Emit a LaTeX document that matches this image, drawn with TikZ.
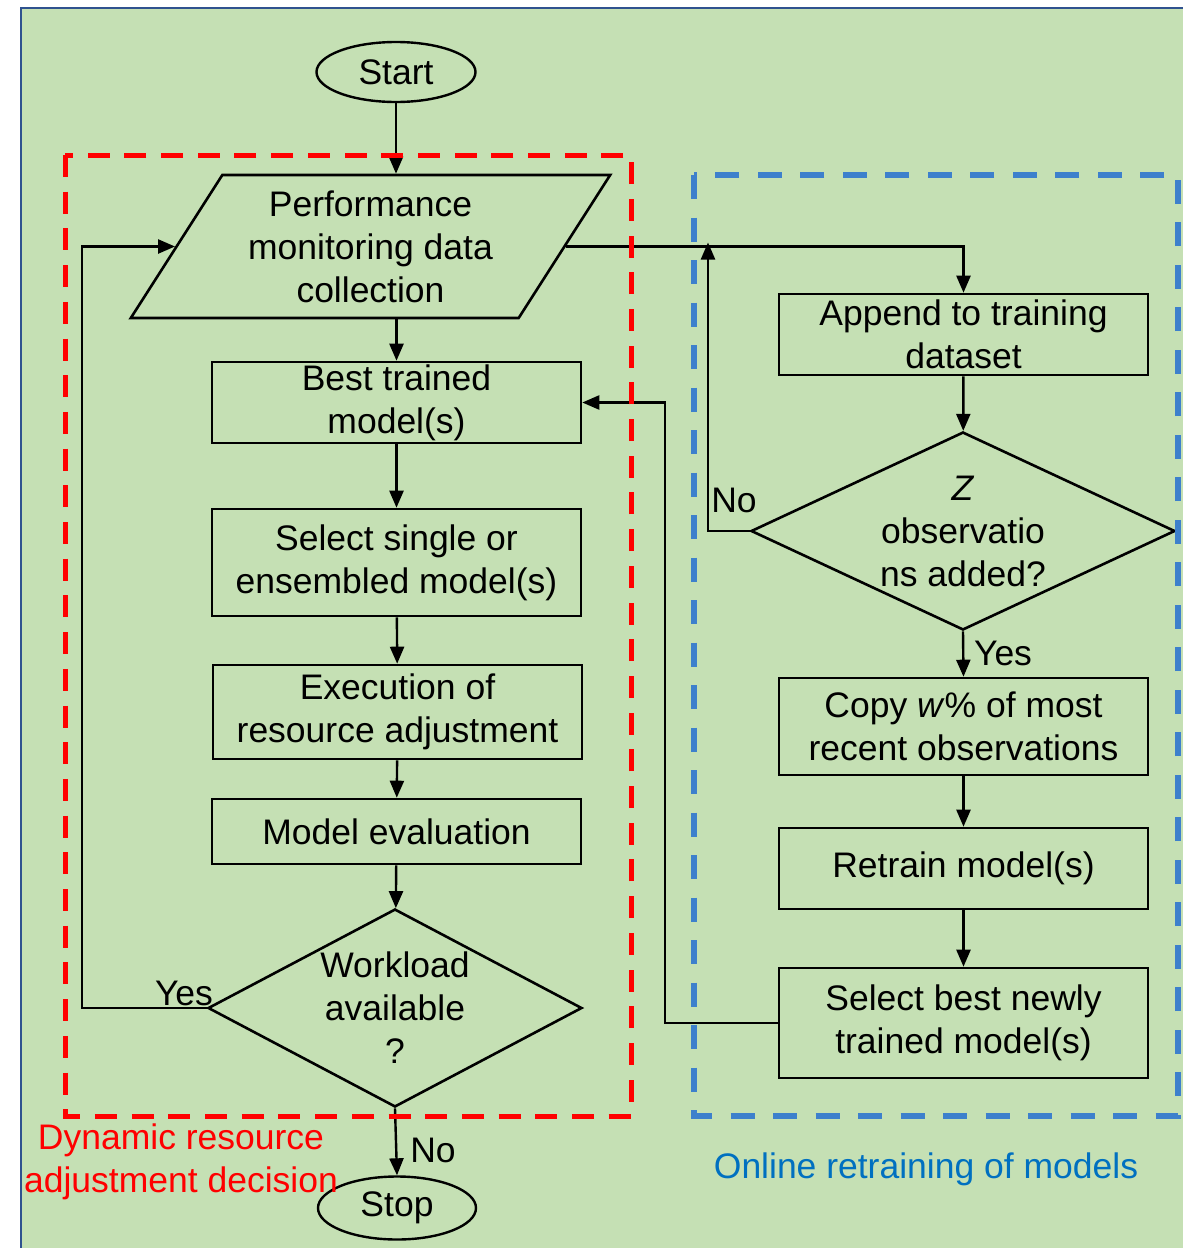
\documentclass[tikz,border=0pt]{standalone}
\usepackage{fontspec}
\setmainfont{Liberation Sans}
\usetikzlibrary{shapes.geometric, arrows.meta}
\usepackage{xcolor}
\definecolor{bgc}{HTML}{C5E0B4}
\definecolor{framec}{HTML}{2F528F}
\definecolor{decc}{HTML}{FF0000}
\definecolor{retrc}{HTML}{3D80CC}
\definecolor{retrtextc}{HTML}{0070C0}

\begin{document}
\begin{tikzpicture}[x=1pt, y=-1pt, font=\fontsize{35.5}{43}\selectfont,
  box/.style={draw, line width=2.6pt, minimum width=369pt, inner sep=0pt, align=center},
  term/.style={draw, ellipse, line width=2.4pt, inner sep=0pt},
  decide/.style={draw, diamond, line width=2.6pt, inner sep=0pt, align=center},
  arr/.style={line width=2.4pt, -{Triangle[length=17pt, width=14pt]}},
  link/.style={line width=2.4pt}]
  \clip (0,0) rectangle (1183,1248);
  \useasboundingbox (0,0) rectangle (1183,1248);
  % background
  \fill[white] (0,0) rectangle (1183,1248);
  \draw[fill=bgc, draw=framec, line width=2pt] (21,8) rectangle (1220,1290);
  % left column
  \node[term, minimum width=159pt, minimum height=60pt] (start) at (396,72) {Start};
  \node[draw, trapezium, trapezium left angle=56, trapezium right angle=124, trapezium stretches=true,
        minimum width=481pt, minimum height=143pt, line width=2.6pt, inner sep=0pt, align=center]
        (perf) at (370.5,246.5) {Performance\\monitoring data\\collection};
  \node[box, minimum height=81pt] (best) at (396.5,402.5) {Best trained\\model(s)};
  \node[box, minimum height=107pt] (sel) at (396.5,562.5) {Select single or\\ensembled model(s)};
  \node[box, minimum height=94pt] (exe) at (397.5,712) {Execution of\\resource adjustment};
  \node[box, minimum height=65pt] (evalm) at (396.5,831.5) {Model evaluation};
  \node[decide, minimum width=374pt, minimum height=198pt, shape aspect=1.89] (work) at (395,1008) {Workload\\available\\?};
  \node[term, minimum width=158pt, minimum height=63pt] (stop) at (397,1208) {Stop};
  % right column
  \node[box, minimum height=81pt] (app) at (963.5,334.5) {Append to training\\dataset};
  \node[decide, minimum width=424pt, minimum height=198pt, shape aspect=2.14] (obs) at (963,531) {\textit{Z}\\observatio\\ns added?};
  \node[box, minimum height=97pt] (copy) at (963.5,726.5) {Copy \textit{w}\% of most\\recent observations};
  \node[box, minimum height=81pt] (retr) at (963.5,868.5) {Retrain model(s)};
  \node[box, minimum height=110pt] (selb) at (963.5,1023) {Select best newly\\trained model(s)};
  % bends
  \coordinate (loopL) at (82,1008);
  \coordinate (noL) at (708,531);
  \coordinate (backR) at (665,1023);
  % connectors
  \draw[arr] (start.south) -- (start.south |- perf.north);
  \draw[arr] (best |- perf.south) -- (best.north);
  \draw[arr] (best) -- (sel);
  \draw[arr] (sel) -- (exe);
  \draw[arr] (exe) -- (evalm);
  \draw[arr] (evalm) -- (work);
  \draw[arr] (work.west) -- (loopL) |- (perf.left side);
  \draw[arr] (work.south) -- (stop.north);
  \draw[arr] (perf.right side) -| (app.north);
  \draw[arr] (app) -- (obs);
  \draw[arr] (obs.west) -- (noL) -- ([yshift=4pt]noL |- perf.right side);
  \draw[arr] (obs.south) -- (copy.north);
  \draw[arr] (copy) -- (retr);
  \draw[arr] (retr) -- (selb);
  \draw[arr] (selb.west) -- (backR) |- (best.east);
  % branch labels
  \node[anchor=base] (yesA) at (184,1005) {Yes};
  \node[anchor=base] (noA) at (433,1162) {No};
  \node[anchor=base] (noB) at (734,512) {No};
  \node[anchor=base] (yesB) at (1003,665) {Yes};
  % groups
  \draw[decc, line width=5pt, dash pattern=on 22pt off 14.7pt] (65,155) rectangle (631,1116);
  \draw[retrc, line width=5.5pt, dash pattern=on 24pt off 18.5pt] (694,175) rectangle (1178,1116);
  \node[decc, align=center] (decL) at (181,1162) {Dynamic resource\\adjustment decision};
  \node[retrtextc] (retrL) at (926,1169) {Online retraining of models};
\end{tikzpicture}
\end{document}
